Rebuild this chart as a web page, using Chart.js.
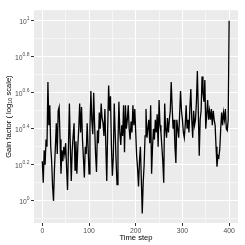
<!DOCTYPE html>
<html>
<head>
<meta charset="utf-8">
<script src="https://cdn.jsdelivr.net/npm/chart.js@4.4.1/dist/chart.umd.min.js"></script>
<style>
  html, body { margin: 0; padding: 0; background: #fff; }
  canvas { display: block; }
</style>
</head>
<body>
<canvas id="gainChart" width="245" height="245"></canvas>
<script>
// time step (every 2nd step)
const timeSteps = [
  0, 2, 4, 6, 8, 10, 12, 14, 16, 18,
  20, 22, 24, 26, 28, 30, 32, 34, 36, 38,
  40, 42, 44, 46, 48, 50, 52, 54, 56, 58,
  60, 62, 64, 66, 68, 70, 72, 74, 76, 78,
  80, 82, 84, 86, 88, 90, 92, 94, 96, 98,
  100, 102, 104, 106, 108, 110, 112, 114, 116, 118,
  120, 122, 124, 126, 128, 130, 132, 134, 136, 138,
  140, 142, 144, 146, 148, 150, 152, 154, 156, 158,
  160, 162, 164, 166, 168, 170, 172, 174, 176, 178,
  180, 182, 184, 186, 188, 190, 192, 194, 196, 198,
  200, 202, 204, 206, 208, 210, 212, 214, 216, 218,
  220, 222, 224, 226, 228, 230, 232, 234, 236, 238,
  240, 242, 244, 246, 248, 250, 252, 254, 256, 258,
  260, 262, 264, 266, 268, 270, 272, 274, 276, 278,
  280, 282, 284, 286, 288, 290, 292, 294, 296, 298,
  300, 302, 304, 306, 308, 310, 312, 314, 316, 318,
  320, 322, 324, 326, 328, 330, 332, 334, 336, 338,
  340, 342, 344, 346, 348, 350, 352, 354, 356, 358,
  360, 362, 364, 366, 368, 370, 372, 374, 376, 378,
  380, 382, 384, 386, 388, 390, 392, 394, 396, 398,
  400
];

// gain factor, as log10 exponent
const logGain = [
  0.22, 0.10, 0.28, 0.20, 0.34, 0.30, 0.66, 0.42, 0.53, 0.30,
  0.22, 0.08, 0.00, 0.18, 0.30, 0.43, 0.26, 0.50, 0.52, 0.34,
  0.15, 0.28, 0.22, 0.30, 0.26, 0.32, 0.18, 0.06, 0.30, 0.54,
  0.30, 0.11, 0.28, 0.36, 0.43, 0.17, 0.33, 0.15, 0.30, 0.40,
  0.54, 0.38, 0.52, 0.34, 0.24, 0.13, 0.30, 0.26, 0.43, 0.30,
  0.15, 0.40, 0.61, 0.45, 0.37, 0.60, 0.42, 0.26, 0.16, 0.39,
  0.32, 0.49, 0.40, 0.54, 0.46, 0.43, 0.36, 0.51, 0.30, 0.11,
  0.40, 0.64, 0.50, 0.58, 0.30, 0.14, 0.24, 0.54, 0.38, 0.22,
  0.09, 0.32, 0.55, 0.38, 0.31, 0.42, 0.36, 0.53, 0.27, 0.53,
  0.40, 0.45, 0.53, 0.40, 0.34, 0.44, 0.38, 0.53, 0.42, 0.51,
  0.38, 0.25, 0.18, 0.08, 0.22, 0.30, 0.12, -0.07, 0.10, 0.20,
  0.36, 0.51, 0.35, 0.40, 0.45, 0.32, 0.53, 0.15, 0.30, 0.40,
  0.34, 0.45, 0.38, 0.48, 0.30, 0.56, 0.42, 0.38, 0.30, 0.22,
  0.10, 0.54, 0.40, 0.35, 0.46, 0.38, 0.45, 0.50, 0.66, 0.52,
  0.40, 0.45, 0.30, 0.21, 0.45, 0.40, 0.35, 0.48, 0.61, 0.50,
  0.45, 0.38, 0.35, 0.42, 0.53, 0.40, 0.45, 0.38, 0.52, 0.62,
  0.45, 0.35, 0.50, 0.42, 0.45, 0.55, 0.72, 0.50, 0.25, 0.45,
  0.50, 0.69, 0.60, 0.55, 0.67, 0.40, 0.48, 0.56, 0.45, 0.50,
  0.45, 0.51, 0.42, 0.50, 0.45, 0.42, 0.30, 0.19, 0.25, 0.24,
  0.29, 0.40, 0.49, 0.42, 0.49, 0.45, 0.51, 0.40, 0.39, 0.45,
  1.00
];

const xMajor = [0, 100, 200, 300, 400];
const xMinor = [50, 150, 250, 350];
const yMajor = [0, 0.2, 0.4, 0.6, 0.8, 1];
const yMinor = [-0.1, 0.1, 0.3, 0.5, 0.7, 0.9];
const yExpLabels = ['0', '0.2', '0.4', '0.6', '0.8', '1'];

const FONT = '"Liberation Sans", Arial, sans-serif';

function isIn(list, v) {
  return list.some(m => Math.abs(m - v) < 1e-6);
}

function gridOpts(major) {
  return {
    color: c => (c.tick && isIn(major, c.tick.value)) ? '#FFFFFF' : '#F6F6F6',
    lineWidth: 1,
    drawTicks: true,
    tickLength: 3,
    tickWidth: 1,
    tickColor: c => (c.tick && isIn(major, c.tick.value)) ? '#333333' : 'rgba(0,0,0,0)'
  };
}

// panel background, y labels with exponents, axis titles
const ggTheme = {
  id: 'ggTheme',
  beforeDraw(chart) {
    const { ctx, chartArea: a } = chart;
    ctx.save();
    ctx.fillStyle = '#FFFFFF';
    ctx.fillRect(0, 0, chart.width, chart.height);
    ctx.fillStyle = '#EBEBEB';
    ctx.fillRect(a.left, a.top, a.right - a.left, a.bottom - a.top);
    ctx.restore();
  },
  afterDraw(chart) {
    const { ctx, chartArea: a, scales } = chart;
    ctx.save();
    ctx.fillStyle = '#4D4D4D';
    ctx.textBaseline = 'alphabetic';
    const right = a.left - 4.5;
    yMajor.forEach((v, i) => {
      const y = scales.y.getPixelForValue(v);
      ctx.font = '5px ' + FONT;
      const ew = ctx.measureText(yExpLabels[i]).width;
      ctx.textAlign = 'left';
      ctx.fillText(yExpLabels[i], right - ew, y - 0.6);
      ctx.font = '6.8px ' + FONT;
      ctx.textAlign = 'right';
      ctx.fillText('10', right - ew, y + 3);
    });

    // x title
    ctx.fillStyle = '#000000';
    ctx.font = '7.6px ' + FONT;
    ctx.textAlign = 'center';
    ctx.textBaseline = 'middle';
    ctx.fillText('Time step', (a.left + a.right) / 2, 237.5);

    // y title, rotated, with subscript 10
    ctx.translate(8.5, (a.top + a.bottom) / 2);
    ctx.rotate(-Math.PI / 2);
    const p1 = 'Gain factor ( log', sub = '10', p2 = ' scale)';
    ctx.font = '7.6px ' + FONT;
    const w1 = ctx.measureText(p1).width, w3 = ctx.measureText(p2).width;
    ctx.font = '5.5px ' + FONT;
    const w2 = ctx.measureText(sub).width;
    let x = -(w1 + w2 + w3) / 2;
    ctx.textAlign = 'left';
    ctx.font = '7.6px ' + FONT;
    ctx.fillText(p1, x, 0);
    x += w1;
    ctx.font = '5.5px ' + FONT;
    ctx.fillText(sub, x, 2);
    x += w2;
    ctx.font = '7.6px ' + FONT;
    ctx.fillText(p2, x, 0);
    ctx.restore();
  }
};

const points = timeSteps.map((t, i) => ({ x: t, y: logGain[i] }));

new Chart(document.getElementById('gainChart').getContext('2d'), {
  type: 'line',
  data: {
    datasets: [{
      data: points,
      borderColor: '#000000',
      borderWidth: 1.3,
      pointRadius: 0,
      tension: 0,
      fill: false
    }]
  },
  options: {
    responsive: false,
    animation: false,
    devicePixelRatio: 1,
    layout: { padding: { left: 0, top: 5, right: 7, bottom: 0 } },
    plugins: { legend: { display: false }, tooltip: { enabled: false } },
    scales: {
      x: {
        type: 'linear',
        min: -17.8,
        max: 419,
        afterBuildTicks: s => { s.ticks = xMajor.concat(xMinor).sort((a, b) => a - b).map(v => ({ value: v })); },
        afterFit: s => { s.height = 22; },
        grid: gridOpts(xMajor),
        border: { display: false },
        ticks: {
          autoSkip: false,
          maxRotation: 0,
          padding: 1,
          color: '#4D4D4D',
          font: { size: 6.8, family: FONT },
          callback: v => isIn(xMajor, v) ? String(v) : ''
        }
      },
      y: {
        type: 'linear',
        min: -0.123,
        max: 1.058,
        afterBuildTicks: s => { s.ticks = yMajor.concat(yMinor).sort((a, b) => a - b).map(v => ({ value: v })); },
        afterFit: s => { s.width = 34; },
        grid: gridOpts(yMajor),
        border: { display: false },
        ticks: { callback: () => '' }
      }
    }
  },
  plugins: [ggTheme]
});
</script>
</body>
</html>
